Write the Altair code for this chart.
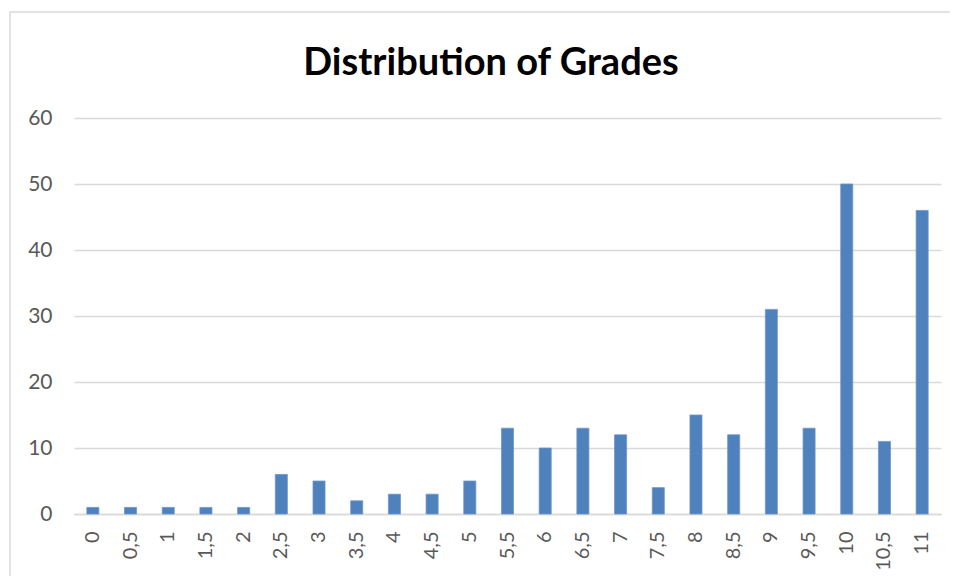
import altair as alt
import pandas as pd

grades = ["0", "0,5", "1", "1,5", "2", "2,5", "3", "3,5", "4", "4,5", "5", "5,5",
          "6", "6,5", "7", "7,5", "8", "8,5", "9", "9,5", "10", "10,5", "11"]
counts = [1, 1, 1, 1, 1, 6, 5, 2, 3, 3, 5, 13, 10, 13, 12, 4, 15, 12, 31, 13, 50, 11, 46]
title_text = "Distribution of Grades"

df = pd.DataFrame({"grade": grades, "count": counts})

GRAY = "#595959"
GRID = "#d9d9d9"
FONT = "Lato"

bars = alt.Chart(df).mark_bar(color="#4f81bd", stroke="#6f97c9", strokeWidth=0.8).encode(
    x=alt.X("grade:N", sort=grades, title=None,
            scale=alt.Scale(paddingInner=0.68, paddingOuter=0.34),
            axis=alt.Axis(labelAngle=-90, labelAlign="right", labelBaseline="middle",
                          labelFontSize=20, labelColor=GRAY, labelFont=FONT,
                          labelPadding=17, ticks=False, domainColor=GRID,
                          domainWidth=1.5, labelOverlap=False, grid=False)),
    y=alt.Y("count:Q", title=None,
            scale=alt.Scale(domain=[0, 60]),
            axis=alt.Axis(values=[0, 10, 20, 30, 40, 50, 60], labelFontSize=21,
                          labelColor=GRAY, labelFont=FONT, labelPadding=22,
                          ticks=False, domain=False, gridColor=GRID, gridWidth=1.3)),
)

frame_df = pd.DataFrame({"k": [0]})
frame_top = alt.Chart(frame_df).mark_rule(stroke=GRID, strokeWidth=1.5).encode(
    x=alt.value(-64), x2=alt.value(900), y=alt.value(-106)
)
frame_left = alt.Chart(frame_df).mark_rule(stroke=GRID, strokeWidth=1.5).encode(
    x=alt.value(-64), y=alt.value(-106), y2=alt.value(480)
)

title = alt.Chart(pd.DataFrame({"t": [title_text]})).mark_text(
    font=FONT, fontSize=38, fontWeight="bold", color="black",
    align="center", baseline="alphabetic"
).encode(text="t:N", x=alt.value(417), y=alt.value(-43))

chart = alt.layer(frame_top, frame_left, bars, title).properties(
    width=867, height=396,
    background="white",
    autosize=alt.AutoSizeParams(type="none"),
    padding={"left": 66, "top": 110, "right": 9, "bottom": 62},
).configure_view(strokeWidth=0, stroke="transparent")

chart.save("out.html", embed_options={"renderer": "svg", "actions": False})
